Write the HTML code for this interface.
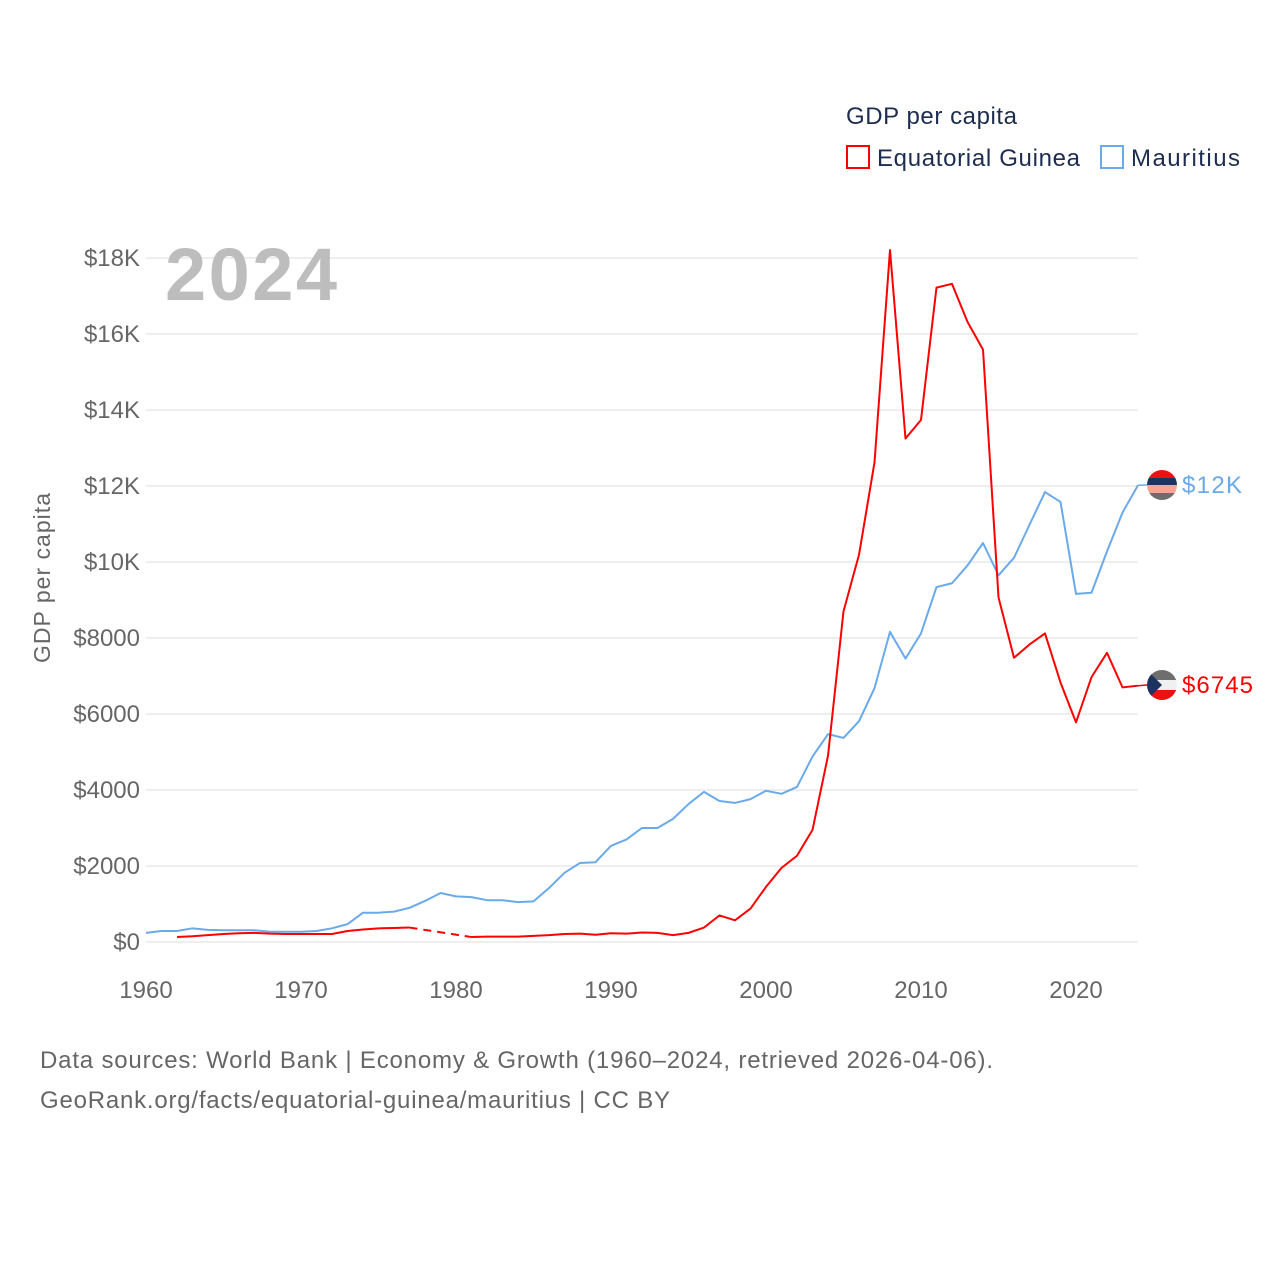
<!DOCTYPE html>
<html><head><meta charset="utf-8"><style>
body{margin:0;background:#fff;font-family:"Liberation Sans",sans-serif}
svg text{font-family:"Liberation Sans",sans-serif}
</style></head><body>
<svg width="1280" height="1280" viewBox="0 0 1280 1280">
<rect width="1280" height="1280" fill="#fff"/>
<g id="grid"></g>
<g id="yticks"></g>
<g id="xticks"></g>
<text x="165" y="300" font-size="74" font-weight="bold" fill="#bdbdbd" textLength="172">2024</text>
<g id="series"></g>
<text x="50" y="578" font-size="23" fill="#666" text-anchor="middle" textLength="170" transform="rotate(-90 50 578)">GDP per capita</text>
<text x="846" y="124" font-size="24" fill="#1d2d50" textLength="171">GDP per capita</text>
<g>
<rect x="847" y="146" width="22" height="22" fill="none" stroke="#f00" stroke-width="2"/>
<text x="877" y="166" font-size="24" fill="#1d2d50" textLength="203">Equatorial Guinea</text></g>
<g>
<rect x="1101" y="146" width="22" height="22" fill="none" stroke="#6aaaea" stroke-width="2"/>
<text x="1131" y="166" font-size="24" fill="#1d2d50" textLength="109">Mauritius</text></g>
<defs>
<clipPath id="c1"><circle cx="1162" cy="485" r="15"/></clipPath>
<clipPath id="c2"><circle cx="1162" cy="685" r="15"/></clipPath>
</defs>
<g clip-path="url(#c1)">
<rect x="1147" y="470" width="30" height="8" fill="#f01010"/>
<rect x="1147" y="478" width="30" height="7" fill="#1c3260"/>
<rect x="1147" y="485" width="30" height="8" fill="#f5a590"/>
<rect x="1147" y="493" width="30" height="8" fill="#6e6e6e"/>
</g>
<text x="1182" y="493" font-size="24" fill="#6aaaea" textLength="60">$12K</text>
<g clip-path="url(#c2)">
<rect x="1147" y="670" width="30" height="10" fill="#6e6e6e"/>
<rect x="1147" y="680" width="30" height="10" fill="#f0f0f0"/>
<rect x="1147" y="690" width="30" height="11" fill="#f01010"/>
<polygon points="1147,670 1162,685 1147,700" fill="#1c3260"/>
</g>
<text x="1182" y="693" font-size="24" fill="#f00" textLength="71">$6745</text>
<text x="40" y="1068" font-size="24" fill="#666" textLength="953">Data sources: World Bank | Economy &amp; Growth (1960–2024, retrieved 2026-04-06).</text>
<text x="40" y="1108" font-size="24" fill="#666" textLength="630">GeoRank.org/facts/equatorial-guinea/mauritius | CC BY</text>
</svg>
<script>
const yTicks=[0,2000,4000,6000,8000,10000,12000,14000,16000,18000];
const yTickLabels=["$0","$2000","$4000","$6000","$8000","$10K","$12K","$14K","$16K","$18K"];
const xTicks=[1960,1970,1980,1990,2000,2010,2020];
const mauritiusYears=[1960,1961,1962,1963,1964,1965,1966,1967,1968,1969,1970,1971,1972,1973,1974,1975,1976,1977,1978,1979,1980,1981,1982,1983,1984,1985,1986,1987,1988,1989,1990,1991,1992,1993,1994,1995,1996,1997,1998,1999,2000,2001,2002,2003,2004,2005,2006,2007,2008,2009,2010,2011,2012,2013,2014,2015,2016,2017,2018,2019,2020,2021,2022,2023,2024];
const mauritiusValues=[240,290,290,360,320,310,310,310,270,270,270,290,360,470,770,770,800,900,1080,1290,1200,1180,1100,1100,1050,1070,1420,1820,2080,2100,2530,2700,3000,3000,3240,3630,3950,3710,3660,3760,3980,3900,4080,4880,5470,5370,5810,6680,8160,7460,8120,9340,9440,9910,10500,9650,10110,10980,11840,11580,9160,9190,10280,11300,12020];
const eqgYears1=[1962,1963,1964,1965,1966,1967,1968,1969,1970,1971,1972,1973,1974,1975,1976,1977];
const eqgValues1=[130,150,180,210,230,240,220,210,210,210,210,290,330,360,370,380];
const eqgYears2=[1981,1982,1983,1984,1985,1986,1987,1988,1989,1990,1991,1992,1993,1994,1995,1996,1997,1998,1999,2000,2001,2002,2003,2004,2005,2006,2007,2008,2009,2010,2011,2012,2013,2014,2015,2016,2017,2018,2019,2020,2021,2022,2023,2024];
const eqgValues2=[130,140,140,140,160,180,210,220,190,230,220,250,240,180,240,380,700,570,880,1450,1950,2270,2950,4900,8700,10190,12620,18210,13250,13740,17220,17320,16320,15590,9070,7480,7830,8120,6830,5780,6970,7610,6700,6745];
const NS='http://www.w3.org/2000/svg';
const X=yr=>146+(yr-1960)*15.5;
const Y=v=>942-v*0.038;
function mk(t,a,p){const e=document.createElementNS(NS,t);for(const k in a)e.setAttribute(k,a[k]);p.appendChild(e);return e;}
const grid=document.getElementById('grid'),yt=document.getElementById('yticks'),xt=document.getElementById('xticks'),ser=document.getElementById('series');
yTicks.forEach((v,i)=>{
  const l=mk('line',{x1:146,x2:1138,y1:Y(v),y2:Y(v),stroke:'#e8e8e8','stroke-width':1.5},grid);
  
  
  const t=mk('text',{x:140,y:Y(v)+8,'font-size':24,fill:'#666','text-anchor':'end'},yt);
  t.textContent=yTickLabels[i];
  
  
});
xTicks.forEach(yr=>{
  const t=mk('text',{x:X(yr),y:998,'font-size':24,fill:'#666','text-anchor':'middle'},xt);
  t.textContent=yr;
  
  
});
function pts(ys,vs){return ys.map((y,i)=>X(y)+','+Y(vs[i])).join(' ');}
const m=mk('polyline',{points:pts(mauritiusYears,mauritiusValues),fill:'none',stroke:'#6aaaea','stroke-width':2,'stroke-linejoin':'round'},ser);


const e1=mk('polyline',{points:pts(eqgYears1,eqgValues1),fill:'none',stroke:'#f00','stroke-width':2,'stroke-linejoin':'round'},ser);


const gap=mk('line',{x1:X(eqgYears1[eqgYears1.length-1]),y1:Y(eqgValues1[eqgValues1.length-1]),x2:X(eqgYears2[0]),y2:Y(eqgValues2[0]),stroke:'#f00','stroke-width':2,'stroke-dasharray':'8,6'},ser);


const e2=mk('polyline',{points:pts(eqgYears2,eqgValues2),fill:'none',stroke:'#f00','stroke-width':2,'stroke-linejoin':'round'},ser);


const c1=mk('line',{x1:X(2024),y1:Y(12020),x2:1147,y2:485,stroke:'#6aaaea','stroke-width':1.5},ser);


const c2=mk('line',{x1:X(2024),y1:Y(6745),x2:1147,y2:685,stroke:'#f00','stroke-width':1.5},ser);


</script>
</body></html>
